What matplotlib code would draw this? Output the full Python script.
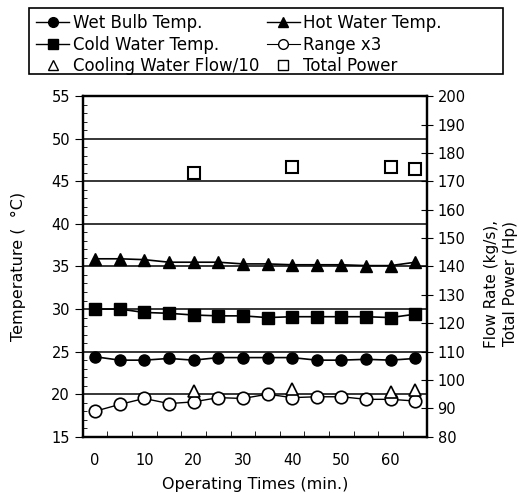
import matplotlib
matplotlib.use("Agg")
from matplotlib import pyplot as plt
from matplotlib.ticker import MultipleLocator, FixedLocator
from matplotlib.lines import Line2D
from matplotlib.patches import Rectangle

plt.rcParams['font.family'] = ['DejaVu Sans']

times = [0, 5, 10, 15, 20, 25, 30, 35, 40, 45, 50, 55, 60, 65]
wet_bulb = [24.4, 24.0, 24.0, 24.2, 24.0, 24.3, 24.3, 24.3, 24.3, 24.0, 24.0, 24.1, 24.0, 24.2]
hot_water = [35.9, 35.9, 35.8, 35.5, 35.5, 35.5, 35.3, 35.3, 35.2, 35.2, 35.2, 35.1, 35.1, 35.5]
cold_water = [30.0, 30.0, 29.6, 29.5, 29.3, 29.2, 29.2, 29.0, 29.1, 29.1, 29.1, 29.1, 29.0, 29.4]
range_x3 = [18.0, 18.8, 19.5, 18.9, 19.1, 19.6, 19.5, 20.0, 19.6, 19.7, 19.7, 19.4, 19.4, 19.2]

flow_times = [20, 40, 60, 65]
flow_div10 = [96.1, 96.9, 95.8, 96.5]
power_times = [20, 40, 60, 65]
total_power = [173.0, 175.0, 175.0, 174.2]

fig = plt.figure(figsize=(5.3, 4.93), dpi=100)
ax = fig.add_axes([0.157, 0.114, 0.649, 0.691])
ax2 = ax.twinx()

ms = 7
ax.plot(times, wet_bulb, '-', color='black', marker='o', ms=ms + 1, lw=1.2)
ax.plot(times, hot_water, '-', color='black', marker='^', ms=ms + 2, lw=1.2)
ax.plot(times, cold_water, '-', color='black', marker='s', ms=ms + 2, lw=1.2)
ax.plot(times, range_x3, '-', color='black', marker='o', mfc='white', mew=1.2, ms=ms + 2, lw=1)
ax2.plot(flow_times, flow_div10, ls='none', marker='^', mfc='white', mec='black', mew=1.2, ms=ms + 2)
ax2.plot(power_times, total_power, ls='none', marker='s', mfc='white', mec='black', ms=ms + 2, mew=1.5)

ax.set_xlim(-2.4, 67.4)
ax.set_ylim(15, 55)
ax2.set_ylim(80, 200)

ax.set_xticks([0, 10, 20, 30, 40, 50, 60])
ax.xaxis.set_minor_locator(FixedLocator([2.5 + 5 * k for k in range(13)]))
ax.yaxis.set_major_locator(MultipleLocator(5))
ax.yaxis.set_minor_locator(MultipleLocator(1))
ax2.yaxis.set_major_locator(MultipleLocator(10))

for y in range(20, 55, 5):
    ax.axhline(y, color='black', lw=1.1, zorder=0)

ax.tick_params(axis='x', which='major', length=0, labelsize=10.5, pad=12)
ax.tick_params(axis='x', which='minor', direction='in', length=4)
ax.tick_params(axis='y', which='major', direction='out', length=6, labelsize=10.5)
ax.tick_params(axis='y', which='minor', direction='in', length=3)
ax2.tick_params(axis='y', which='major', direction='inout', length=8, labelsize=10.5)

for a in (ax, ax2):
    for s in a.spines.values():
        s.set_linewidth(1.6)

ax.set_xlabel('Operating Times (min.)', fontsize=11.5, labelpad=6)
ax.set_ylabel('Temperature (  \u00b0C)', fontsize=11.5, labelpad=18)
ax2.set_ylabel('Flow Rate (kg/s),\nTotal Power (Hp)', fontsize=11, labelpad=13,
               linespacing=1.35)
ax2.yaxis.label.set_y(0.45)

handles = [
    Line2D([], [], color='black', marker='o', ms=ms, lw=1),
    Line2D([], [], color='black', marker='s', ms=ms, lw=1),
    Line2D([], [], ls='none', color='black', marker='^', mfc='white', ms=ms),
    Line2D([], [], color='black', marker='^', ms=ms, lw=1),
    Line2D([], [], color='black', marker='o', mfc='white', ms=ms, lw=0.8),
    Line2D([], [], ls='none', color='black', marker='s', mfc='white', ms=ms),
]
labels = ['Wet Bulb Temp.', 'Cold Water Temp.', 'Cooling Water Flow/10',
          'Hot Water Temp.', 'Range x3', 'Total Power']
fig.legend(handles, labels, ncol=2, loc='upper left',
           bbox_to_anchor=(0.0585, 0.982), fontsize=12, frameon=False,
           handlelength=2, handletextpad=0.2, columnspacing=0.45,
           labelspacing=0.22, borderpad=0.3, borderaxespad=0)

# legend box is wider than its contents in the original
fig.patches.append(Rectangle((0.0547, 0.850), 0.894, 0.134, transform=fig.transFigure,
                             fill=False, edgecolor='black', lw=1.2))

fig.savefig('out.png', dpi=100)
